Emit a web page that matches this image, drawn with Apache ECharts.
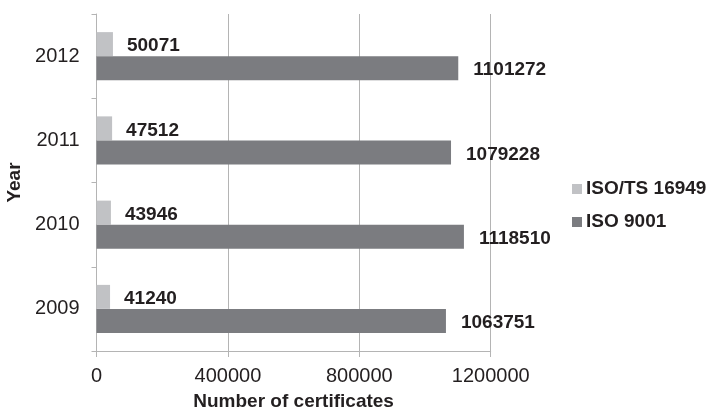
<!DOCTYPE html>
<html>
<head>
<meta charset="utf-8">
<script src="https://cdn.jsdelivr.net/npm/echarts@6/dist/echarts.min.js"></script>
<style>html,body{margin:0;padding:0;background:#fff}#c{width:716px;height:410px}</style>
</head>
<body>
<div id="c"></div>
<script>
const years = ['2009', '2010', '2011', '2012'];
const isoTs16949 = [41240, 43946, 47512, 50071];
const iso9001 = [1063751, 1118510, 1079228, 1101272];
const xTicks = [0, 400000, 800000, 1200000];

const chart = echarts.init(document.getElementById('c'), null, {renderer: 'canvas'});
const font = "'Liberation Sans', Arial, sans-serif";
const axisGray = '#b4b4b4';
const txt = '#231f20';
chart.setOption({
  animation: false,
  backgroundColor: '#fff',
  textStyle: {fontFamily: font},
  grid: {left: 96.5, right: 225.3, top: 14, bottom: 59, containLabel: false, outerBoundsMode: 'none'},
  legend: {
    orient: 'vertical', left: 567, top: 174,
    itemWidth: 10, itemHeight: 10, itemGap: 13,
    icon: 'rect',
    data: ['ISO/TS 16949', 'ISO 9001'],
    textStyle: {fontFamily: font, fontSize: 19, fontWeight: 'bold', color: txt, lineHeight: 20, padding: [0, 0, 0, -1]}
  },
  xAxis: {
    type: 'value', min: xTicks[0], max: xTicks[xTicks.length - 1], interval: 400000,
    name: 'Number of certificates', nameLocation: 'middle', nameGap: 41,
    nameTextStyle: {fontFamily: font, fontSize: 19, fontWeight: 'bold', color: txt},
    axisLine: {show: true, lineStyle: {color: axisGray, width: 1}},
    axisTick: {show: true, length: 6, lineStyle: {color: axisGray}},
    axisLabel: {fontFamily: font, fontSize: 20, color: txt, margin: 15, formatter: v => String(v)},
    splitLine: {show: true, lineStyle: {color: axisGray, width: 1}}
  },
  yAxis: {
    type: 'category', data: years,
    name: 'Year', nameLocation: 'middle', nameGap: 68, nameRotate: 90,
    nameTextStyle: {fontFamily: font, fontSize: 19, fontWeight: 'bold', color: txt},
    axisLine: {show: true, lineStyle: {color: axisGray, width: 1}},
    axisTick: {show: true, length: 5, lineStyle: {color: axisGray}},
    axisLabel: {fontFamily: font, fontSize: 20, color: txt, margin: 17}
  },
  series: [
    {
      name: 'ISO/TS 16949', type: 'bar', data: isoTs16949,
      barWidth: 24, barGap: '0%',
      itemStyle: {color: '#c1c2c5'},
      label: {show: true, position: 'right', distance: 14, fontFamily: font, fontSize: 19, fontWeight: 'bold', color: txt, offset: [0, 2]}
    },
    {
      name: 'ISO 9001', type: 'bar', data: iso9001,
      barWidth: 24, barGap: '0%',
      itemStyle: {color: '#7b7c80'},
      label: {show: true, position: 'right', distance: 15, fontFamily: font, fontSize: 19, fontWeight: 'bold', color: txt, offset: [0, 2]}
    }
  ]
});
</script>
</body>
</html>
